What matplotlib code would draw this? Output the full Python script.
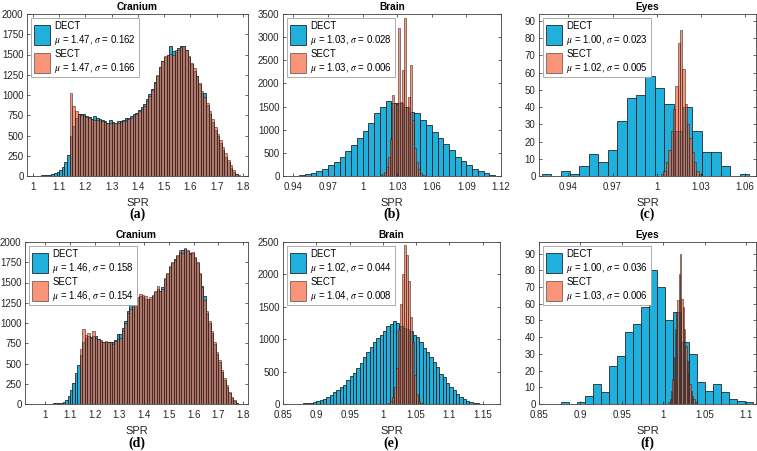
import numpy as np
import matplotlib.pyplot as plt

plt.rcParams['font.family'] = ['Liberation Sans', 'DejaVu Sans']
plt.rcParams['mathtext.fontset'] = 'stix'

# %% 数据（直方图的箱起点、箱宽、计数）
cran1_dect_start, cran1_dect_w = 0.99, 0.01
cran1_dect = [3, 4, 5, 6, 8, 10, 14, 18, 25, 35, 50, 75, 110, 170, 260,
              500, 620, 720, 760, 770, 760, 740, 730, 700, 740, 720, 700, 690, 680, 660,
              690, 670, 660, 680, 680, 690, 710, 720, 740, 760, 780, 820, 850, 890, 950,
              1010, 1080, 1160, 1240, 1340, 1420, 1470, 1500, 1600, 1540, 1530, 1580, 1610,
              1600, 1550, 1470, 1380, 1300, 1230, 1140, 1030, 1020, 880, 770, 670, 570,
              500, 410, 320, 240, 170, 100, 50, 20, 6, 1]
cran1_sect_start, cran1_sect_w = 1.14, 0.01
cran1_sect = [1020, 870, 800, 770, 750, 740, 730, 720, 700, 690, 690, 680, 680, 670, 660,
              660, 650, 660, 660, 670, 680, 690, 700, 720, 740, 770, 800, 830, 870, 920,
              990, 1060, 1150, 1250, 1350, 1420, 1480, 1500, 1510, 1500, 1550, 1560, 1590,
              1600, 1560, 1480, 1400, 1330, 1240, 1150, 1050, 980, 900, 800, 700, 610, 520,
              440, 360, 280, 200, 130, 70, 30, 10, 2]

brain1_dect_start, brain1_dect_w = 0.94, 0.005
brain1_dect = [5, 20, 50, 70, 110, 160, 230, 310, 420, 540, 680, 830, 980, 1150, 1370,
               1500, 1620, 1580, 1570, 1500, 1380, 1360, 1200, 1100, 950, 820, 700, 560,
               420, 320, 230, 160, 100, 60, 30, 10]
brain1_sect_start, brain1_sect_w = 1.013, 0.00175
brain1_sect = [5, 15, 40, 90, 200, 420, 800, 1750, 1580, 1550, 3200, 1600, 2300, 3420,
               1500, 1700, 2400, 1200, 600, 300, 150, 70, 30, 10]

eyes1_dect_start, eyes1_dect_w = 0.9219, 0.0064
eyes1_dect = [1, 0, 3, 1, 6, 13, 8, 15, 32, 45, 47, 58, 51, 42, 26, 40, 26, 14, 14, 6, 0, 1]
eyes1_sect_start, eyes1_sect_w = 1.003, 0.0016
eyes1_sect = [1, 3, 8, 15, 26, 39, 52, 77, 85, 62, 42, 30, 22, 14, 8, 3, 1]

cran2_dect_start, cran2_dect_w = 0.96, 0.01
cran2_dect = [2, 2, 3, 3, 4, 5, 6, 8, 10, 12, 15, 20, 50, 100, 170, 260, 380, 480,
              600, 760, 820, 840, 830, 840, 840, 800, 780, 770, 770, 760, 760, 760, 790,
              870, 860, 940, 1030, 1150, 1220, 1260, 1290, 1310, 1330, 1320, 1300, 1290,
              1300, 1330, 1380, 1420, 1400, 1450, 1540, 1610, 1690, 1740, 1790, 1830, 1880,
              1900, 1910, 1890, 1860, 1860, 1800, 1740, 1600, 1460, 1330, 1120, 1000, 880,
              740, 620, 520, 400, 300, 210, 135, 80, 40, 14, 5, 1]
cran2_sect_start, cran2_sect_w = 1.14, 0.01
cran2_sect = [680, 920, 850, 880, 820, 900, 820, 800, 790, 760, 780, 760, 770, 740, 780,
              800, 820, 900, 1000, 1120, 1170, 1250, 1300, 1320, 1360, 1350, 1330, 1300,
              1320, 1350, 1400, 1460, 1400, 1420, 1550, 1620, 1700, 1750, 1780, 1840, 1900,
              1870, 1920, 1900, 1850, 1880, 1820, 1750, 1620, 1450, 1280, 1150, 1020, 900,
              760, 640, 540, 420, 320, 230, 150, 90, 45, 18, 6, 2]

brain2_dect_start, brain2_dect_w = 0.875, 0.005
brain2_dect = [5, 8, 10, 15, 25, 40, 60, 80, 110, 140, 190, 210, 260, 300, 370, 430, 480,
               560, 640, 730, 800, 880, 960, 1020, 1060, 1120, 1200, 1230, 1280, 1250, 1200,
               1180, 1150, 1120, 1070, 1030, 950, 870, 800, 730, 650, 570, 470, 410, 320,
               270, 210, 160, 110, 70, 40, 25, 15, 8, 4, 2]
brain2_sect_start, brain2_sect_w = 1.008, 0.003
brain2_sect = [10, 40, 110, 260, 550, 1150, 1550, 2000, 2450, 2300, 1900, 1350, 950, 450,
               160, 50, 10]

eyes2_dect_start, eyes2_dect_w = 0.876, 0.0097
eyes2_dect = [1, 0, 1, 5, 12, 7, 23, 29, 43, 48, 58, 80, 70, 50, 55, 37, 30, 13, 8, 12, 7, 3, 2, 1]
eyes2_sect_start, eyes2_sect_w = 1.006, 0.0016
eyes2_sect = [1, 3, 8, 15, 28, 45, 55, 62, 78, 90, 63, 58, 45, 35, 26, 18, 12, 8, 5, 3, 1]

titles = ['Cranium', 'Brain', 'Eyes', 'Cranium', 'Brain', 'Eyes']
sub_labels = ['(a)', '(b)', '(c)', '(d)', '(e)', '(f)']
dect_stats = [('1.47', '0.162'), ('1.03', '0.028'), ('1.00', '0.023'),
              ('1.46', '0.158'), ('1.02', '0.044'), ('1.00', '0.036')]
sect_stats = [('1.47', '0.166'), ('1.03', '0.006'), ('1.02', '0.005'),
              ('1.46', '0.154'), ('1.04', '0.008'), ('1.03', '0.006')]

cran_xticks = [1, 1.1, 1.2, 1.3, 1.4, 1.5, 1.6, 1.7, 1.8]
cran_xlabels = ['1', '1.1', '1.2', '1.3', '1.4', '1.5', '1.6', '1.7', '1.8']
brain1_xticks = [0.94, 0.97, 1.0, 1.03, 1.06, 1.09, 1.12]
brain1_xlabels = ['0.94', '0.97', '1', '1.03', '1.06', '1.09', '1.12']
eyes1_xticks = [0.94, 0.97, 1.0, 1.03, 1.06]
eyes1_xlabels = ['0.94', '0.97', '1', '1.03', '1.06']
brain2_xticks = [0.85, 0.9, 0.95, 1.0, 1.05, 1.1, 1.15]
brain2_xlabels = ['0.85', '0.9', '0.95', '1', '1.05', '1.1', '1.15']
eyes2_xticks = [0.85, 0.9, 0.95, 1.0, 1.05, 1.1]
eyes2_xlabels = ['0.85', '0.9', '0.95', '1', '1.05', '1.1']

panels = [
    (cran1_dect_start, cran1_dect_w, cran1_dect, cran1_sect_start, cran1_sect_w, cran1_sect,
     (0.977, 1.82), (0, 2000), np.arange(0, 2001, 250), cran_xticks, cran_xlabels),
    (brain1_dect_start, brain1_dect_w, brain1_dect, brain1_sect_start, brain1_sect_w, brain1_sect,
     (0.931, 1.12), (0, 3500), np.arange(0, 3501, 500), brain1_xticks, brain1_xlabels),
    (eyes1_dect_start, eyes1_dect_w, eyes1_dect, eyes1_sect_start, eyes1_sect_w, eyes1_sect,
     (0.920, 1.0675), (0, 94), np.arange(0, 91, 10), eyes1_xticks, eyes1_xlabels),
    (cran2_dect_start, cran2_dect_w, cran2_dect, cran2_sect_start, cran2_sect_w, cran2_sect,
     (0.918, 1.82), (0, 2000), np.arange(0, 2001, 250), cran_xticks, cran_xlabels),
    (brain2_dect_start, brain2_dect_w, brain2_dect, brain2_sect_start, brain2_sect_w, brain2_sect,
     (0.85, 1.176), (0, 2500), np.arange(0, 2501, 500), brain2_xticks, brain2_xlabels),
    (eyes2_dect_start, eyes2_dect_w, eyes2_dect, eyes2_sect_start, eyes2_sect_w, eyes2_sect,
     (0.85, 1.112), (0, 97), np.arange(0, 91, 10), eyes2_xticks, eyes2_xlabels),
]

# 像素位置 (left, right, top, bottom)
W, H = 757, 451
boxes = [(27, 248, 14, 176), (283, 501, 14, 176), (539, 756, 14, 176),
         (25, 248, 242, 404), (283, 500, 242, 404), (539, 756, 242, 404)]

c_dect = '#1fb0de'
c_sect = (0.98, 0.36, 0.2)
c_axis = '#404040'

fig = plt.figure(figsize=(W / 100, H / 100), dpi=100)

for i, p in enumerate(panels):
    ds, dw, dv, ss, sw, sv, xl, yl, yt, xt, xtl = p
    l, r, t, b = boxes[i]
    ax = fig.add_axes([l / W, 1 - b / H, (r - l) / W, (b - t) / H])
    d_left = [ds + k * dw for k in range(len(dv))]
    s_left = [ss + k * sw for k in range(len(sv))]
    ax.bar(d_left, dv, width=dw, align='edge', color=c_dect,
           edgecolor='#1a1a1a', linewidth=0.55,
           label='DECT\n$\\mu$ = %s, $\\sigma$ = %s' % dect_stats[i])
    ax.bar(s_left, sv, width=sw, align='edge', color=c_sect, alpha=0.65,
           edgecolor='#1a1a1a', linewidth=0.55,
           label='SECT\n$\\mu$ = %s, $\\sigma$ = %s' % sect_stats[i])
    ax.set_xlim(xl)
    ax.set_ylim(yl)
    ax.set_yticks(yt)
    ax.set_xticks(xt)
    ax.set_xticklabels(xtl)
    ax.tick_params(direction='in', top=True, right=True, length=2.5, width=0.5,
                   labelsize=7, colors='#262626')
    ax.tick_params(axis='x', pad=4)
    ax.tick_params(axis='y', pad=2.5)
    for s in ax.spines.values():
        s.set_linewidth(0.6)
        s.set_color(c_axis)
    ax.set_title(titles[i], fontsize=7.3, fontweight='bold', pad=3)
    ax.set_xlabel('SPR', fontsize=8, labelpad=4.5, color='#262626')
    leg = ax.legend(loc='upper left', fontsize=6.9, handlelength=1.75, handleheight=2.9,
                    handletextpad=0.4, labelspacing=0.2, borderpad=0.25,
                    borderaxespad=0.45, fancybox=False, framealpha=1)
    leg.get_frame().set_edgecolor('#a0a0a0')
    leg.get_frame().set_linewidth(0.6)
    fig.text((l + r) / 2 / W, 1 - (214 if i < 3 else 443) / H, sub_labels[i],
             ha='center', va='center', fontsize=10, fontweight='bold',
             family=['Liberation Serif', 'DejaVu Serif'])

fig.savefig('out.png', dpi=100)
